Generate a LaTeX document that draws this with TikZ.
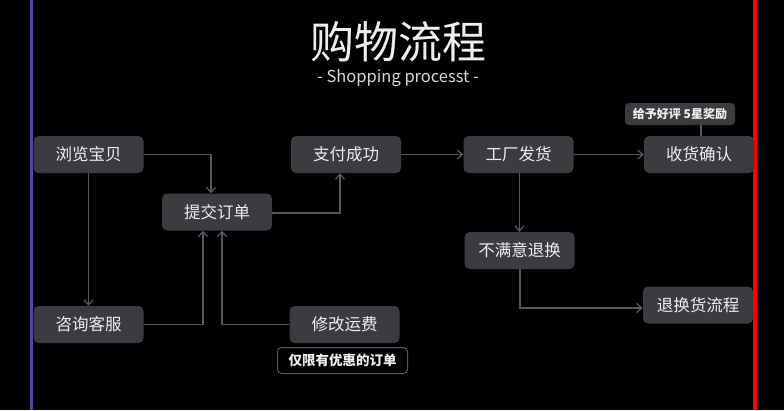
\documentclass[tikz,border=0pt]{standalone}
\usepackage{fontspec}
\setmainfont{Noto Sans CJK SC}
\usetikzlibrary{arrows.meta}
\definecolor{boxfill}{HTML}{3C3B40}
\definecolor{linegray}{HTML}{58585C}
\definecolor{txt}{HTML}{EEEEEE}
\definecolor{leftline}{HTML}{5B3DB0}
\tikzset{
  stepbox/.style={draw=none, fill=boxfill, rounded corners=5pt, minimum width=110pt, minimum height=37pt, inner sep=0pt, text=txt, font=\fontsize{16.5}{18}\selectfont},
  notebox/.style={fill=boxfill, rounded corners=4pt, minimum width=110pt, minimum height=22pt, inner sep=0pt, text=txt, font=\fontsize{12}{14}\selectfont\bfseries},
  limitbox/.style={draw=linegray, line width=1pt, fill=black, rounded corners=4pt, minimum width=130pt, minimum height=26pt, inner sep=0pt, text=txt, font=\fontsize{13.5}{15}\selectfont\bfseries},
  conn/.style={draw=linegray, line width=1.3pt, -{Straight Barb[length=5pt,width=9pt]}},
  plain/.style={draw=linegray, line width=1.3pt}
}
\begin{document}
\begin{tikzpicture}[x=1pt,y=-1pt]
\useasboundingbox (0,0) rectangle (784,410);
\fill[black] (0,0) rectangle (784,410);
\draw[leftline, line width=3pt] (31,0) -- (31,410);
\draw[red, line width=3.5pt] (755,0) -- (755,410);

\node[text=txt, font=\fontsize{44}{48}\selectfont] (title) at (398,42) {购物流程};
\node[text=txt!80!gray, font=\fontsize{16.5}{18}\selectfont] (sub) at (398,78) {- Shopping processt -};

\node[stepbox] (browse) at (88.5,154.5) {浏览宝贝};
\node[stepbox] (submit) at (217,212) {提交订单};
\node[stepbox] (pay) at (346,154.5) {支付成功};
\node[stepbox] (ship) at (518.5,154.5) {工厂发货};
\node[stepbox] (confirm) at (699,154.5) {收货确认};
\node[notebox] (review) at (680,114) {给予好评 5星奖励};
\node[stepbox] (unhappy) at (519.5,250.5) {不满意退换};
\node[stepbox] (returns) at (698,305) {退换货流程};
\node[stepbox] (consult) at (88.5,324.5) {咨询客服};
\node[stepbox] (freight) at (344.5,324.5) {修改运费};
\node[limitbox] (limit) at (342.5,360.5) {仅限有优惠的订单};

\coordinate (c1) at (211,154.5);
\coordinate (c2) at (203,324.5);
\coordinate (c3) at (222,324.5);
\coordinate (c4) at (340,213);
\coordinate (c5) at (520,308);
\coordinate (c6) at (701,0);

\draw[conn] (browse.east) -- (c1) -- (submit.north -| c1);
\draw[conn] (browse.south) -- (consult.north);
\draw[conn] (consult.east) -- (c2) -- (submit.south -| c2);
\draw[conn] (freight.west) -- (c3) -- (submit.south -| c3);
\draw[conn] (submit.east |- c4) -- (c4) -- (pay.south -| c4);
\draw[conn] (pay.east) -- (ship.west);
\draw[conn] (ship.east) -- (confirm.west);
\draw[conn] (ship.south -| unhappy.south) -- (unhappy.north);
\draw[conn] (unhappy.south -| c5) -- (c5) -- (returns.west |- c5);
\draw[plain] (review.south -| c6) -- (confirm.north -| c6);
\end{tikzpicture}
\end{document}
